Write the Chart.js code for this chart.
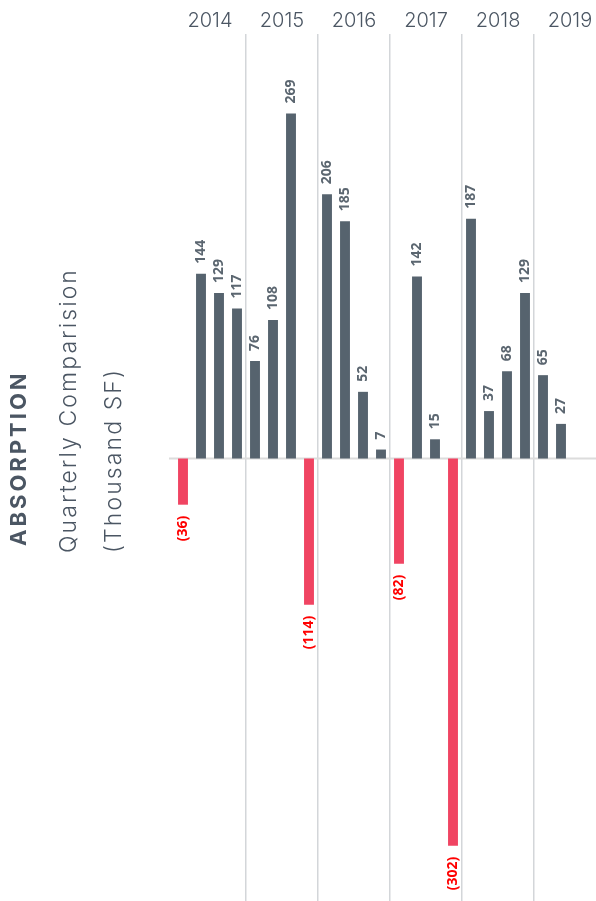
<!DOCTYPE html>
<html>
<head>
<meta charset="utf-8">
<script src="https://cdn.jsdelivr.net/npm/chart.js@4.4.1/dist/chart.umd.min.js"></script>
<style>
  html, body { margin: 0; padding: 0; background: #ffffff; overflow: hidden; width: 596px; height: 901px; }
  #wrap { position: absolute; left: 0; top: 0; width: 606px; height: 901px; }
  .rt { position: absolute; white-space: nowrap; transform: rotate(-90deg); transform-origin: 0 0; color: #4b5663; font-family: Inter, "Open Sans", sans-serif; }
  #t1 { left: 7px; top: 546px; font-size: 22px; line-height: 22px; font-weight: 700; letter-spacing: 3px; }
  #t2 { left: 57px; top: 553px; font-size: 23px; line-height: 23px; font-weight: 300; letter-spacing: 2.1px; }
  #t3 { left: 102px; top: 553px; font-size: 23px; line-height: 23px; font-weight: 300; letter-spacing: 2.1px; }
</style>
</head>
<body>
<div id="wrap"><canvas id="c"></canvas></div>
<div class="rt" id="t1">ABSORPTION</div>
<div class="rt" id="t2">Quarterly Comparision</div>
<div class="rt" id="t3">(Thousand SF)</div>
<script>
const quarters = [
  'Q1 2014','Q2 2014','Q3 2014','Q4 2014',
  'Q1 2015','Q2 2015','Q3 2015','Q4 2015',
  'Q1 2016','Q2 2016','Q3 2016','Q4 2016',
  'Q1 2017','Q2 2017','Q3 2017','Q4 2017',
  'Q1 2018','Q2 2018','Q3 2018','Q4 2018',
  'Q1 2019','Q2 2019','Q3 2019','Q4 2019'
];
const years = ['2014','2015','2016','2017','2018','2019'];
const absorption = [
  -36, 144, 129, 117,
  76, 108, 269, -114,
  206, 185, 52, 7,
  -82, 142, 15, -302,
  187, 37, 68, 129,
  65, 27, null, null
];

const POS_COLOR = '#56636e';
const NEG_COLOR = '#f04462';
const POS_LABEL = '#5b6670';
const NEG_LABEL = '#ff0000';

const zeroLine = {
  id: 'zeroLine',
  beforeDatasetsDraw(chart) {
    const y = chart.scales.y.getPixelForValue(0);
    const ctx = chart.ctx;
    ctx.save();
    ctx.strokeStyle = '#dcdcdc';
    ctx.lineWidth = 2;
    ctx.beginPath();
    ctx.moveTo(chart.chartArea.left - 5, y);
    ctx.lineTo(chart.chartArea.right, y);
    ctx.stroke();
    ctx.restore();
  }
};

const barLabels = {
  id: 'barLabels',
  afterDatasetsDraw(chart) {
    const ctx = chart.ctx;
    const meta = chart.getDatasetMeta(0);
    const data = chart.data.datasets[0].data;
    ctx.save();
    ctx.font = 'bold 14px "Open Sans", sans-serif';
    ctx.textBaseline = 'middle';
    meta.data.forEach((bar, i) => {
      const v = data[i];
      if (v === null || v === undefined) return;
      ctx.save();
      if (v >= 0) {
        ctx.translate(bar.x + 0.5, bar.y - 10);
        ctx.rotate(-Math.PI / 2);
        ctx.textAlign = 'left';
        ctx.fillStyle = POS_LABEL;
        ctx.fillText(String(v), 0, 0);
      } else {
        ctx.translate(bar.x + 0.5, bar.y + 11);
        ctx.rotate(-Math.PI / 2);
        ctx.textAlign = 'right';
        ctx.fillStyle = NEG_LABEL;
        ctx.fillText('(' + Math.abs(v) + ')', 0, 0);
      }
      ctx.restore();
    });
    ctx.restore();
  }
};

new Chart(document.getElementById('c'), {
  type: 'bar',
  data: {
    labels: quarters,
    datasets: [{
      data: absorption,
      backgroundColor: (c) => (c.raw !== null && c.raw < 0 ? NEG_COLOR : POS_COLOR),
      borderWidth: 0,
      barPercentage: 0.55,
      categoryPercentage: 1.0,
      xAxisID: 'x',
      yAxisID: 'y'
    }]
  },
  options: {
    responsive: true,
    maintainAspectRatio: false,
    animation: false,
    devicePixelRatio: 1,
    layout: { padding: { left: 174, right: 0, top: 8, bottom: 0 } },
    plugins: { legend: { display: false }, tooltip: { enabled: false }, title: { display: false } },
    scales: {
      x: {
        type: 'category',
        position: 'bottom',
        offset: true,
        ticks: { display: false },
        border: { display: false },
        grid: {
          offset: true,
          drawTicks: false,
          lineWidth: 1.5,
          color: (c) => (c.index > 0 && c.index < 24 && c.index % 4 === 0 ? '#d3d6d9' : 'rgba(0,0,0,0)')
        }
      },
      x2: {
        type: 'category',
        position: 'top',
        labels: years,
        offset: true,
        grid: { display: false, drawTicks: false },
        border: { display: false },
        ticks: {
          padding: 1,
          color: '#4b5663',
          maxRotation: 0,
          autoSkip: false,
          font: { family: 'Inter, "Open Sans", sans-serif', size: 20, weight: 300 }
        }
      },
      y: {
        display: false,
        min: -345,
        max: 331
      }
    }
  },
  plugins: [zeroLine, barLabels]
});
</script>
</body>
</html>
